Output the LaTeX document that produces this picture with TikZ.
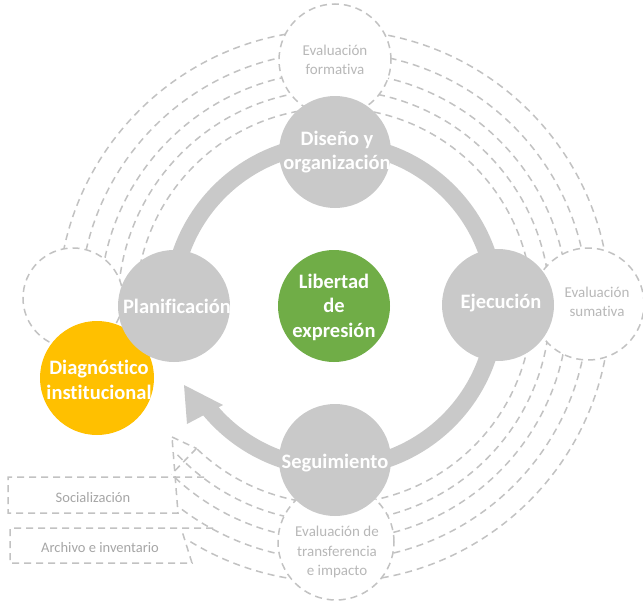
\documentclass[tikz,border=0pt]{standalone}
\usepackage{fontspec}
\setmainfont{Carlito}[Ligatures=NoCommon]
\usetikzlibrary{calc}
\definecolor{grayc}{RGB}{201,201,201}
\definecolor{dashc}{RGB}{194,194,194}
\definecolor{greenc}{RGB}{112,173,71}
\definecolor{yellowc}{RGB}{255,192,0}
\definecolor{ptextc}{RGB}{184,184,184}
\definecolor{btextc}{RGB}{166,166,166}
\begin{document}
\begin{tikzpicture}[x=1pt,y=1pt,
  dl/.style={draw=dashc, line width=1.5pt, dash pattern=on 7pt off 5pt},
  pcirc/.style={circle, draw=dashc, line width=1.5pt, dash pattern=on 7pt off 5pt, fill=white, minimum size=#1, inner sep=0pt},
  gcirc/.style={circle, fill=grayc, minimum size=112pt, inner sep=0pt},
  btext/.style={text=white, font=\bfseries\fontsize{20.5}{24.5}\selectfont, align=center, inner sep=0pt},
  ptext/.style={text=ptextc, font=\fontsize{15}{19.5}\selectfont, align=center, inner sep=0pt},
  boxtext/.style={text=btextc, font=\fontsize{14.5}{20}\selectfont, inner sep=0pt},
  ring/.style={draw=grayc, line width=17pt}]
% canvas
\path[fill=white, use as bounding box] (0,0) rectangle (643,-605);
\coordinate (C) at (334,-306);
% dashed arcs, three full quadrants
\foreach \r in {198,216,234,254,276} {
  \draw[dl] (C) ++(90:\r) arc[start angle=90, end angle=180, radius=\r pt];
  \draw[dl] (C) ++(0:\r) arc[start angle=0, end angle=90, radius=\r pt];
  \draw[dl] (C) ++(-90:\r) arc[start angle=-90, end angle=0, radius=\r pt];
}
% bottom-left quadrant
\foreach \r/\e in {198/-134, 216/-137.4, 234/-134, 254/-127.9, 276/-121.5} {
  \draw[dl] (C) ++(-90:\r) arc[start angle=-90, end angle=\e, radius=\r pt];
}
\coordinate (blt) at (172,-437);
\draw[dl] (blt) -- ($(C)+(226:198)$);
\draw[dl] ($(C)+(226:198)$) -- ($(C)+(226:234)$);
% boxes
\draw[dl] (204,-477) -- (8,-477) -- (8,-513) -- (178,-513) -- (blt);
\draw[dl] (213,-528) -- (10,-528) -- (10,-563) -- (192,-563) -- (182,-531);
\node[boxtext] (soc) at (93,-498) {Socialización};
\node[boxtext] (arc) at (100,-548) {Archivo e inventario};
% peripheral dashed circles
\node[pcirc=112pt] (form) at (335,-60) {};
\node[pcirc=112pt] (sum) at (588,-304) {};
\node[pcirc=116pt] (trans) at (336,-542) {};
\node[pcirc=100pt] (leftc) at (73,-298) {};
\node[ptext] (formt) at (335,-60) {Evaluación\\formativa};
\node[ptext] (sumt) at (597,-302) {Evaluación\\sumativa};
\node[ptext] (transt) at (337,-552) {Evaluación de\\transferencia\\e impacto};
% ring with arrow
\draw[ring] (C) ++(180:162) arc[start angle=180, end angle=-141, radius=162pt];
\fill[grayc] (184,-385) -- (223,-405) -- (187,-424) -- cycle;
% main circles
\node[gcirc, fill=yellowc, minimum size=114pt,
  path picture={\node[btext] (diagt) at ([xshift=2pt,yshift=-2pt]path picture bounding box.center) {Diagnóstico\\institucional};}] (diag) at (97,-378) {};
\node[gcirc, path picture={\node[btext] (dist) at ([xshift=2pt]path picture bounding box.center) {Diseño y\\organización};}] (dis) at (335,-152) {};
\node[gcirc, path picture={\node[btext] (plant) at ([xshift=3pt]path picture bounding box.center) {Planificación};}] (plan) at (174,-306) {};
\node[gcirc, path picture={\node[btext] (ejet) at ([xshift=3pt,yshift=2pt]path picture bounding box.center) {Ejecución};}] (eje) at (498,-305) {};
\node[gcirc, path picture={\node[btext] (segt) at ([yshift=-3pt]path picture bounding box.center) {Seguimiento};}] (seg) at (335,-460) {};
\node[gcirc, fill=greenc, path picture={\node[btext, align=center] (libt) at ([yshift=-1pt]path picture bounding box.center) {Libertad\\de\\expresión};}] (lib) at (334,-306) {};
\end{tikzpicture}
\end{document}
